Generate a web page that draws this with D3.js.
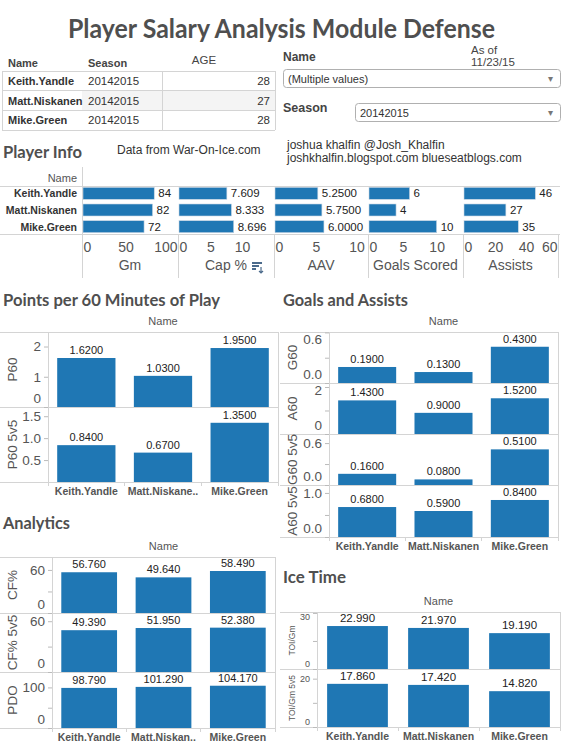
<!DOCTYPE html>
<html>
<head>
<meta charset="utf-8">
<script src="https://cdn.jsdelivr.net/npm/d3@7"></script>
<style>
  body { margin: 0; background: #fff; }
</style>
</head>
<body>
<script>
// ---- data ----
const players = ["Keith.Yandle", "Matt.Niskanen", "Mike.Green"];
const seasons = ["20142015", "20142015", "20142015"];
const ages = [28, 27, 28];

const gm = [84, 82, 72];
const capPct = [7.609, 8.333, 8.696];
const aav = [5.25, 5.75, 6.0];
const goals = [6, 4, 10];
const assists = [46, 27, 35];

const p60 = [1.62, 1.03, 1.95];
const p60_5v5 = [0.84, 0.67, 1.35];

const g60 = [0.19, 0.13, 0.43];
const a60 = [1.43, 0.9, 1.52];
const g60_5v5 = [0.16, 0.08, 0.51];
const a60_5v5 = [0.68, 0.59, 0.84];

const cfPct = [56.76, 49.64, 58.49];
const cfPct5v5 = [49.39, 51.95, 52.38];
const pdo = [98.79, 101.29, 104.17];

const toiGm = [22.99, 21.97, 19.19];
const toiGm5v5 = [17.86, 17.42, 14.82];

// truncated column labels as tableau shows them
const pointsNames = ["Keith.Yandle", "Matt.Niskane..", "Mike.Green"];
const analyticsNames = ["Keith.Yandle", "Matt.Niskan..", "Mike.Green"];

const blue = "#1f77b4";
const lineCol = "#d4d4d4";
const ink = "#333";
const gray = "#555";

const svg = d3
  .select("body")
  .append("svg")
  .attr("width", 566)
  .attr("height", 754)
  .style("font-family", "'Liberation Sans', Arial, sans-serif");

function label(x, y, s, size, o = {}) {
  return svg
    .append("text")
    .attr("x", x)
    .attr("y", y)
    .attr("font-size", size)
    .attr("font-weight", o.bold ? "bold" : null)
    .attr("fill", o.fill || ink)
    .attr("text-anchor", o.anchor || "start")
    .attr("dominant-baseline", "central")
    .text(s);
}

function hline(x1, x2, y) {
  svg.append("line").attr("x1", x1).attr("x2", x2).attr("y1", y).attr("y2", y)
    .attr("stroke", lineCol).attr("stroke-width", 1).attr("shape-rendering", "crispEdges");
}
function vline(x, y1, y2) {
  svg.append("line").attr("x1", x).attr("x2", x).attr("y1", y1).attr("y2", y2)
    .attr("stroke", lineCol).attr("stroke-width", 1).attr("shape-rendering", "crispEdges");
}

// title and section headings use a fitted heavy font
function heading(x, y, s, size, w) {
  svg
    .append("text")
    .attr("x", x)
    .attr("y", y)
    .attr("font-family", "Lato, 'Open Sans', sans-serif")
    .attr("font-weight", "bold")
    .attr("font-size", size)
    .attr("fill", "#4f4f4f")
    .attr("textLength", w)
    .attr("lengthAdjust", "spacingAndGlyphs")
    .text(s);
}

heading(68, 38, "Player Salary Analysis Module Defense", 26, 427);

// ---- top table ----
const rowY = d3.scaleBand().domain(players).range([71, 130]);
svg.append("rect")
  .attr("x", 82).attr("y", rowY(players[1]))
  .attr("width", 193).attr("height", rowY.bandwidth())
  .attr("fill", "#f4f4f4");
label(8, 63, "Name", 11, { bold: true, fill: "#444" });
label(88, 63, "Season", 11, { bold: true, fill: "#444" });
label(204, 60, "AGE", 11.5, { anchor: "middle", fill: "#444" });
[71].concat(players.map((p) => rowY(p) + rowY.bandwidth())).forEach((y) => hline(2, 275, y));
vline(2, 71, 130);
vline(162, 71, 130);
vline(275, 71, 130);
players.forEach((p, i) => {
  const cy = rowY(p) + rowY.bandwidth() / 2;
  label(8, cy, p, 11, { bold: true, fill: "#333" });
  label(88, cy, seasons[i], 11.5, { fill: "#333" });
  label(270, cy, ages[i], 11.5, { anchor: "end", fill: "#333" });
});

// ---- filters ----
label(283, 57, "Name", 12, { bold: true, fill: "#444" });
label(471, 49.5, "As of", 11.5, { fill: "#444" });
label(471, 61.5, "11/23/15", 11.5, { fill: "#444" });
function dropdown(x, y, w, s) {
  svg.append("rect").attr("x", x + 0.5).attr("y", y + 0.5).attr("width", w).attr("height", 18)
    .attr("rx", 3).attr("fill", "#fff").attr("stroke", "#b0b0b0");
  label(x + 5, y + 10, s, 11, { fill: "#333" });
  label(x + w - 10, y + 9.5, "\u25BE", 10, { anchor: "middle", fill: "#777" });
}
dropdown(283, 69, 277, "(Multiple values)");
label(283, 108, "Season", 12.5, { bold: true, fill: "#444" });
dropdown(355, 103, 205, "20142015");

// ---- player info ----
heading(3, 158, "Player Info", 17, 79);
label(117, 150, "Data from War-On-Ice.com", 12, { fill: "#333" });
label(287, 145, "joshua khalfin @Josh_Khalfin", 12, { fill: "#333" });
label(287, 158, "joshkhalfin.blogspot.com blueseatblogs.com", 12, { fill: "#333" });

const piCols = [
  { name: "Gm", values: gm, max: 112, ticks: [0, 50, 100], fmt: "d" },
  { name: "Cap %", values: capPct, max: 15.1, ticks: [0, 5, 10], fmt: ".3f" },
  { name: "AAV", values: aav, max: 11.4, ticks: [0, 5, 10], fmt: ".4f" },
  { name: "Goals Scored", values: goals, max: 13.9, ticks: [0, 5, 10], fmt: "d" },
  { name: "Assists", values: assists, max: 60.6, ticks: [0, 20, 40, 60], fmt: "d" },
];
const piEdges = [82, 178, 274, 368, 463, 558];
const piRow = d3.scaleBand().domain(players).range([185, 235]).paddingInner(0.28).paddingOuter(0.14);

hline(0, 560, 186);
hline(0, 560, 234);
vline(82, 167, 278);
label(77, 178, "Name", 11, { anchor: "end", fill: gray });
players.forEach((p) => {
  label(77, piRow(p) + piRow.bandwidth() / 2, p, 10.5, { anchor: "end", bold: true, fill: "#333" });
});

piCols.forEach((c, ci) => {
  const x0 = piEdges[ci], x1 = piEdges[ci + 1];
  const xs = d3.scaleLinear().domain([0, c.max]).range([x0 + 1, x1]);
  vline(x1, 234, 278);
  svg.append("g")
    .selectAll("rect")
    .data(c.values)
    .join("rect")
    .attr("x", xs(0))
    .attr("y", (d, i) => piRow(players[i]))
    .attr("width", (d) => xs(d) - xs(0))
    .attr("height", piRow.bandwidth())
    .attr("fill", blue)
    .attr("stroke", "#c9d6e3")
    .attr("stroke-width", 0.6);
  svg.append("g")
    .selectAll("text")
    .data(c.values)
    .join("text")
    .attr("x", (d) => xs(d) + 4)
    .attr("y", (d, i) => piRow(players[i]) + piRow.bandwidth() / 2)
    .attr("dominant-baseline", "central")
    .attr("font-size", 11.5)
    .attr("fill", "#222")
    .text((d) => d3.format(c.fmt)(d));

  const ax = svg.append("g")
    .attr("transform", "translate(0,234)")
    .call(d3.axisBottom(xs).tickValues(c.ticks).tickSize(0).tickPadding(8).tickFormat(d3.format("d")));
  ax.select(".domain").remove();
  ax.selectAll("text")
    .attr("font-size", 14)
    .attr("font-family", "'Liberation Sans', Arial, sans-serif")
    .attr("fill", "#555")
    .attr("x", function (v) {
      const w = this.getComputedTextLength();
      const p = xs(v);
      const cx = Math.max(x0 + w / 2 + 1, Math.min(x1 - w / 2 - 1, p));
      return cx - p;
    });
  const t = label((x0 + x1) / 2, 265, c.name, 14, { anchor: "middle", fill: "#555" });
  if (c.name === "Cap %") {
    // sort indicator right after the field name
    const sx = (x0 + x1) / 2 + t.node().getComputedTextLength() / 2 + 5, sy = 262;
    [10, 7, 4].forEach((w, k) => {
      svg.append("rect").attr("x", sx).attr("y", sy + k * 3).attr("width", w).attr("height", 2).attr("fill", "#4b6a8b");
    });
    svg.append("path")
      .attr("d", `M${sx + 9},${sy + 5} v6 m-2,-2 l2,2 l2,-2`)
      .attr("stroke", "#4b6a8b").attr("fill", "none").attr("stroke-width", 1.2);
  }
});

// ---- vertical bar sections ----
function barSection(c) {
  const top = c.edges[0], bottom = c.edges[c.edges.length - 1];
  const x = d3.scaleBand().domain(players).range([c.paneL, c.paneR]).paddingInner(c.pad).paddingOuter(c.pad / 2);
  heading(c.titleX, c.titleY, c.title, 17, c.titleW);
  label((c.paneL + c.paneR) / 2, top - 11, "Name", 11, { anchor: "middle", fill: gray });
  c.edges.forEach((e) => hline(c.x0, c.paneR, e));
  vline(c.paneL, top, bottom + 4);
  vline(c.paneR, top, bottom + 4);
  [1, 2].forEach((k) => vline(c.paneL + (c.paneR - c.paneL) * k / 3, bottom, bottom + 4));

  c.rows.forEach((r, i) => {
    const y0 = c.edges[i], y1 = c.edges[i + 1];
    const y = d3.scaleLinear().domain([0, r.max]).range([y1, y0]);
    const g = svg.append("g");
    g.selectAll("rect")
      .data(r.values)
      .join("rect")
      .attr("x", (d, j) => x(players[j]))
      .attr("y", (d) => y(d))
      .attr("width", x.bandwidth())
      .attr("height", (d) => y(0) - y(d))
      .attr("fill", blue);
    g.selectAll("text")
      .data(r.values)
      .join("text")
      .attr("x", (d, j) => x(players[j]) + x.bandwidth() / 2)
      .attr("y", (d) => y(d) - 4)
      .attr("text-anchor", "middle")
      .attr("font-size", c.valueFont)
      .attr("fill", "#222")
      .text((d) => d3.format(c.vf)(d));

    const ax = svg.append("g")
      .attr("transform", `translate(${c.paneL},0)`)
      .call(d3.axisLeft(y).tickValues(r.ticks).tickSize(4).tickPadding(3).tickFormat(d3.format(r.tf)));
    ax.select(".domain").remove();
    ax.selectAll("line").attr("stroke", "#bbb");
    ax.selectAll("text")
      .attr("font-size", c.tickFont)
      .attr("font-family", "'Liberation Sans', Arial, sans-serif")
      .attr("fill", "#555")
      .attr("y", (v) => {
        const p = y(v);
        const cp = Math.max(y0 + c.tickFont * 0.55, Math.min(y1 - c.tickFont * 0.65, p));
        return cp - p;
      });
    if (r.minor.length) {
      const mx = svg.append("g")
        .attr("transform", `translate(${c.paneL},0)`)
        .call(d3.axisLeft(y).tickValues(r.minor).tickSize(4).tickFormat(""));
      mx.select(".domain").remove();
      mx.selectAll("line").attr("stroke", "#bbb");
    }
    svg.append("text")
      .attr("transform", `translate(${c.axisTitleX},${(y0 + y1) / 2}) rotate(-90)`)
      .attr("text-anchor", "middle")
      .attr("dominant-baseline", "central")
      .attr("font-size", c.axisTitleFont)
      .attr("fill", "#555")
      .text(r.label);
  });

  players.forEach((p, j) => {
    label(x(p) + x.bandwidth() / 2, bottom + 9, c.names[j], c.catFont, { anchor: "middle", bold: true, fill: "#555" });
  });
}

barSection({
  title: "Points per 60 Minutes of Play", titleX: 3, titleY: 306, titleW: 217,
  x0: 0, paneL: 48, paneR: 278, edges: [332, 407, 482], pad: 0.24,
  names: pointsNames, vf: ".4f", valueFont: 11, tickFont: 13.5,
  axisTitleX: 12, axisTitleFont: 13.5, catFont: 10.5,
  rows: [
    { label: "P60", values: p60, max: 2.48, ticks: [0, 1, 2], minor: [], tf: "d" },
    { label: "P60 5v5", values: p60_5v5, max: 1.71, ticks: [0.5, 1.0, 1.5], minor: [], tf: ".1f" },
  ],
});

barSection({
  title: "Goals and Assists", titleX: 283, titleY: 306, titleW: 125,
  x0: 280, paneL: 329, paneR: 558, edges: [332, 383, 434, 485, 537], pad: 0.24,
  names: players, vf: ".4f", valueFont: 11, tickFont: 13.5,
  axisTitleX: 292, axisTitleFont: 13.5, catFont: 10.5,
  rows: [
    { label: "G60", values: g60, max: 0.605, ticks: [0, 0.6], minor: [0.3], tf: ".1f" },
    { label: "A60", values: a60, max: 2.17, ticks: [0, 2], minor: [1], tf: "d" },
    { label: "G60 5v5", values: g60_5v5, max: 0.73, ticks: [0, 0.6], minor: [0.3], tf: ".1f" },
    { label: "A60 5v5", values: a60_5v5, max: 1.18, ticks: [0, 1.0], minor: [0.5], tf: ".1f" },
  ],
});

barSection({
  title: "Analytics", titleX: 3, titleY: 529, titleW: 67,
  x0: 0, paneL: 52, paneR: 275, edges: [557, 613, 672, 728], pad: 0.25,
  names: analyticsNames, vf: ".3f", valueFont: 11, tickFont: 13.5,
  axisTitleX: 12, axisTitleFont: 13.5, catFont: 10.5,
  rows: [
    { label: "CF%", values: cfPct, max: 78, ticks: [0, 60], minor: [30], tf: "d" },
    { label: "CF% 5v5", values: cfPct5v5, max: 69.7, ticks: [0, 60], minor: [30], tf: "d" },
    { label: "PDO", values: pdo, max: 138, ticks: [0, 100], minor: [50], tf: "d" },
  ],
});

barSection({
  title: "Ice Time", titleX: 283, titleY: 583, titleW: 63,
  x0: 280, paneL: 317, paneR: 560, edges: [612, 669, 727], pad: 0.25,
  names: players, vf: ".3f", valueFont: 11.5, tickFont: 9,
  axisTitleX: 292, axisTitleFont: 8.5, catFont: 10.5,
  rows: [
    { label: "TOI/Gm", values: toiGm, max: 30.5, ticks: [0, 30], minor: [15], tf: "d" },
    { label: "TOI/Gm 5v5", values: toiGm5v5, max: 24, ticks: [0, 20], minor: [10], tf: "d" },
  ],
});
</script>
</body>
</html>
